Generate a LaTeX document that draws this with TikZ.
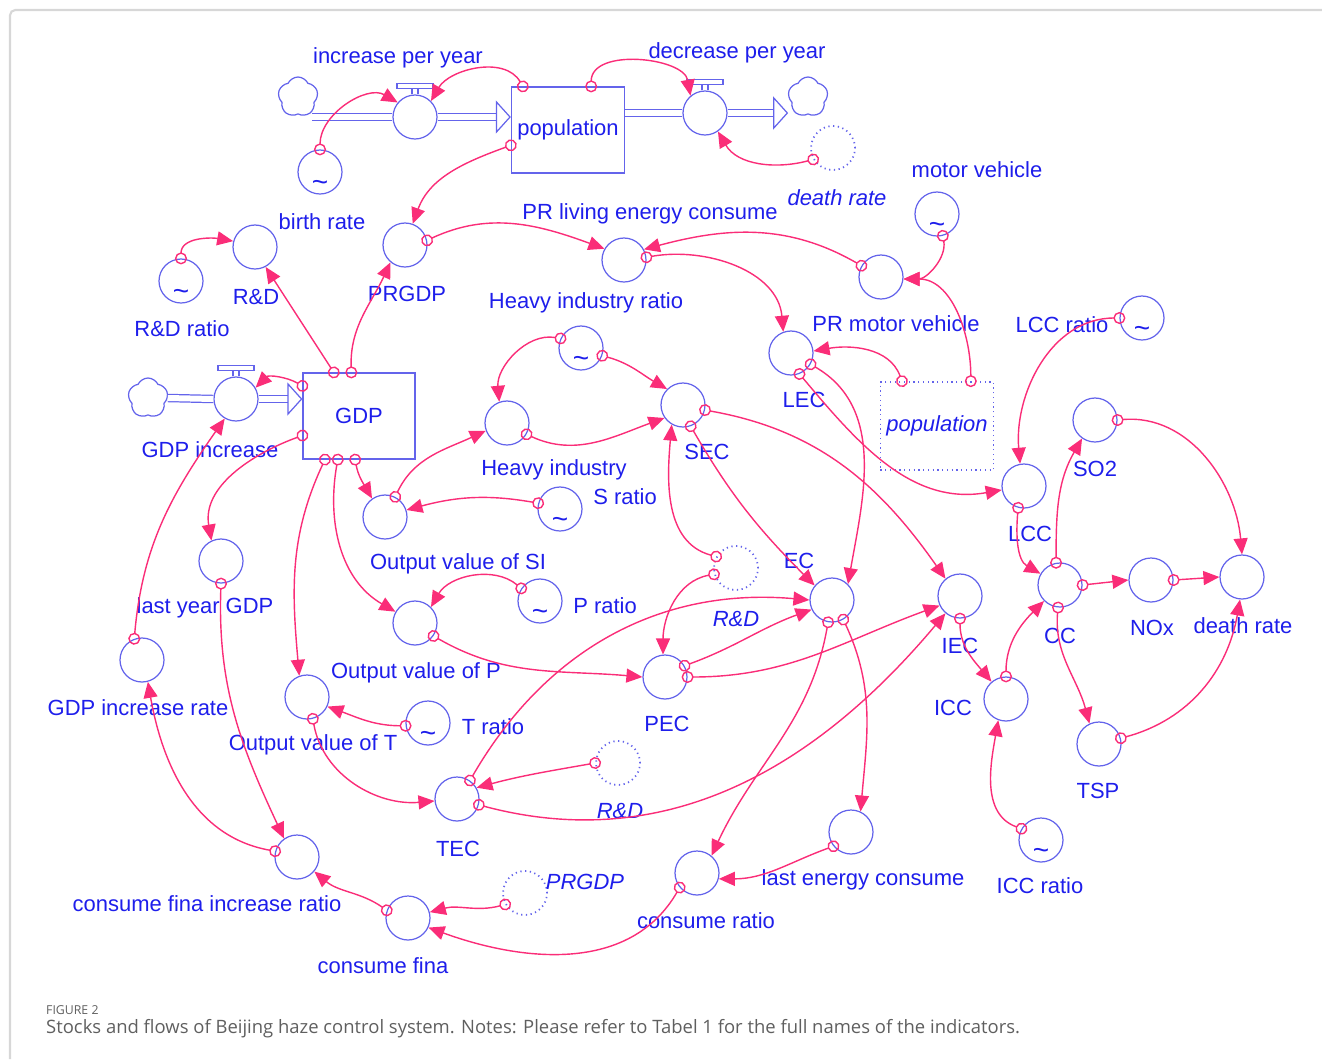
\documentclass[tikz,border=0pt]{standalone}
\usepackage{fontspec}
\setmainfont{Liberation Sans}
\newfontfamily\capfont{Open Sans}
\usetikzlibrary{arrows.meta,shapes.symbols,calc}

\definecolor{vblue}{RGB}{30,30,235}
\definecolor{cblue}{RGB}{100,100,235}
\definecolor{lpink}{RGB}{250,45,120}
\definecolor{framegray}{RGB}{215,215,215}
\definecolor{capgray}{RGB}{95,95,95}
\newcommand\lblfont{\fontsize{12.5}{14}\selectfont}

\begin{document}
\begin{tikzpicture}[x=0.02cm,y=0.02cm,
	aux/.style={circle,draw=cblue,line width=0.7pt,minimum size=0.88cm,inner sep=0pt},
	const/.style={aux,label={[tildemark,yshift=-0.27cm]center:\char`\~}},
	tildemark/.style={text=vblue,font=\fontsize{16}{16}\selectfont,inner sep=0pt},
	shadow/.style={aux,dotted,line width=1pt},
	stock/.style={rectangle,draw=cblue,line width=0.7pt,minimum width=2.24cm,minimum height=1.72cm,text=vblue,font=\lblfont},
	src/.style={cloud,cloud puffs=5,cloud puff arc=130,aspect=1,draw=cblue,line width=0.7pt,minimum size=0.8cm,inner sep=0pt},
	lbl/.style={text=vblue,font=\lblfont,inner sep=1pt},
	ital/.style={font=\lblfont\itshape},
	link/.style={lpink,line width=0.8pt,shorten <=-0.12cm,{Circle[open,length=0.24cm]}-{Triangle[length=0.32cm,width=0.28cm]}},
	pipe/.style={draw=cblue,line width=0.7pt,double=white,double distance=0.12cm},
	flowhead/.style={-{Triangle[open,length=0.3cm,width=0.66cm]}}]

	\useasboundingbox (0,0) rectangle (1322,-1059);
	\draw[framegray,line width=1.2pt,rounded corners=3pt] (10,-1059) -- (10,-10) -- (1322,-10);

	% stocks, flows and variables
	\node[src] (cl1) at (298,-97) {};
	\node[aux] (inc) at (415,-117) {};
	\node[stock] (pop) at (568,-130) {population};
	\node[aux] (dec) at (705,-113) {};
	\node[src] (cl2) at (808,-97) {};
	\node[const] (br) at (320,-172) {};
	\node[shadow] (drs) at (833,-148) {};
	\node[const] (rdr) at (181,-281) {};
	\node[aux] (rd) at (255,-247) {};
	\node[aux] (prgdp) at (405,-245) {};
	\node[aux] (prl) at (624,-260) {};
	\node[const] (mv) at (937,-214) {};
	\node[aux] (prmv) at (881,-277) {};
	\node[aux] (lec) at (791,-353) {};
	\node[stock,dotted,line width=1pt,minimum width=2.22cm,minimum height=1.76cm] (pops) at (937,-426) {\itshape population};
	\node[const] (lccr) at (1142,-318) {};
	\node[const] (hir) at (581,-348) {};
	\node[aux] (sec) at (683,-405) {};
	\node[aux] (hi) at (507,-423) {};
	\node[stock] (gdp) at (359,-416) {GDP};
	\node[src] (cl3) at (148,-398) {};
	\node[aux] (gdpinc) at (236,-399) {};
	\node[aux] (so2) at (1095,-420) {};
	\node[aux] (lcc) at (1024,-486) {};
	\node[aux] (osi) at (385,-517) {};
	\node[const] (sr) at (560,-509) {};
	\node[aux] (lyg) at (221,-561) {};
	\node[shadow] (rds1) at (736,-568) {};
	\node[aux] (ec) at (832,-600) {};
	\node[aux] (iec) at (960,-596) {};
	\node[aux] (cc) at (1060,-585) {};
	\node[aux] (nox) at (1151,-580) {};
	\node[aux] (dr) at (1242,-577) {};
	\node[const] (pr) at (540,-601) {};
	\node[aux] (op) at (415,-623) {};
	\node[aux] (gir) at (142,-660) {};
	\node[aux] (pec) at (665,-677) {};
	\node[aux] (icc) at (1006,-699) {};
	\node[aux] (ot) at (307,-697) {};
	\node[const] (tr) at (428,-723) {};
	\node[aux] (tsp) at (1099,-744) {};
	\node[shadow] (rds2) at (618,-763) {};
	\node[aux] (tec) at (457,-799) {};
	\node[aux] (lecon) at (851,-832) {};
	\node[const] (iccr) at (1041,-840) {};
	\node[aux] (cfir) at (297,-857) {};
	\node[aux] (cr) at (697,-873) {};
	\node[shadow] (prs) at (525,-893) {};
	\node[aux] (cf) at (408,-918) {};

	\foreach \v in {inc,dec,gdpinc}{
		\draw[cblue,line width=0.7pt] ($(\v.north)+(-3,0)$) -- ++(0,6) ($(\v.north)+(3,0)$) -- ++(0,6);
		\draw[cblue,line width=0.7pt,fill=white] ($(\v.north)+(-18,6)$) rectangle ($(\v.north)+(18,11)$);
	}

	\draw[pipe] (cl1.south east |- inc) -- (inc.west);
	\draw[pipe,flowhead] (inc.east) -- (pop.west |- inc);
	\draw[pipe] (pop.east |- dec) -- (dec.west);
	\draw[pipe,flowhead] (dec.east) -- (cl2.west |- dec);
	\draw[pipe] (cl3.east) -- (gdpinc.west);
	\draw[pipe,flowhead] (gdpinc.east) -- (gdp.west |- gdpinc);

	% labels
	\node[lbl] (inctxt) at (398,-58) {increase per year};
	\node[lbl] (dectxt) at (737,-53) {decrease per year};
	\node[lbl] (brtxt) at (322,-222) {birth rate};
	\node[lbl,ital] (drstxt) at (837,-198) {death rate};
	\node[lbl] (mvtxt) at (977,-170) {motor vehicle};
	\node[lbl] (prltxt) at (650,-214) {PR living energy consume};
	\node[lbl] (rdtxt) at (256,-297) {R\&D};
	\node[lbl] (rdrtxt) at (182,-329) {R\&D ratio};
	\node[lbl] (prgdptxt) at (407,-294) {PRGDP};
	\node[lbl] (hirtxt) at (586,-303) {Heavy industry ratio};
	\node[lbl] (prmvtxt) at (896,-324) {PR motor vehicle};
	\node[lbl] (lccrtxt) at (1062,-325) {LCC ratio};
	\node[lbl] (lectxt) at (804,-400) {LEC};
	\node[lbl] (gdpinctxt) at (210,-450) {GDP increase};
	\node[lbl] (sectxt) at (707,-452) {SEC};
	\node[lbl] (so2txt) at (1095,-469) {SO2};
	\node[lbl] (hitxt) at (554,-470) {Heavy industry};
	\node[lbl] (srtxt) at (625,-497) {S ratio};
	\node[lbl] (lcctxt) at (1030,-534) {LCC};
	\node[lbl] (ositxt) at (458,-564) {Output value of SI};
	\node[lbl] (ectxt) at (799,-561) {EC};
	\node[lbl] (lygtxt) at (205,-608) {last year GDP};
	\node[lbl] (prtxt) at (605,-606) {P ratio};
	\node[lbl,ital] (rds1txt) at (736,-619) {R\&D};
	\node[lbl] (iectxt) at (960,-646) {IEC};
	\node[lbl] (cctxt) at (1060,-636) {CC};
	\node[lbl] (noxtxt) at (1152,-628) {NOx};
	\node[lbl] (drtxt) at (1243,-626) {death rate};
	\node[lbl] (optxt) at (416,-673) {Output value of P};
	\node[lbl] (girtxt) at (138,-708) {GDP increase rate};
	\node[lbl] (icctxt) at (953,-708) {ICC};
	\node[lbl] (trtxt) at (493,-727) {T ratio};
	\node[lbl] (pectxt) at (667,-724) {PEC};
	\node[lbl] (ottxt) at (313,-745) {Output value of T};
	\node[lbl] (tsptxt) at (1098,-791) {TSP};
	\node[lbl,ital] (rds2txt) at (620,-811) {R\&D};
	\node[lbl] (tectxt) at (458,-849) {TEC};
	\node[lbl,ital] (prstxt) at (585,-882) {PRGDP};
	\node[lbl] (lecontxt) at (863,-880) {last energy consume};
	\node[lbl] (iccrtxt) at (1040,-886) {ICC ratio};
	\node[lbl] (cfirtxt) at (207,-904) {consume fina increase ratio};
	\node[lbl] (crtxt) at (706,-921) {consume ratio};
	\node[lbl] (cftxt) at (383,-966) {consume fina};

	% causal links
	\path[link]
	(br.90) edge[out=90,in=150] (inc.140)
	(pop.136) edge[out=120,in=60] (inc.45)
	(pop.62) edge[out=90,in=100] (dec.130)
	(drs.210) edge[out=195,in=-60] (dec.-55)
	(pop.195) edge[out=200,in=70] (prgdp.70)
	(rdr.90) edge[out=90,in=170] (rd.165)
	(gdp.120) edge (rd.-62)
	(gdp.100) edge[out=92,in=-115] (prgdp.-130)
	(gdp.152) edge[out=150,in=45] (gdpinc.30)
	(gir.110) edge[out=85,in=-125] (gdpinc.-120)
	(gdp.199) edge[out=200,in=100] (lyg.115)
	(lyg.-90) edge[out=-92,in=115] (cfir.125)
	(cfir.165) edge[out=170,in=-80] (gir.-75)
	(cf.160) edge[out=145,in=-40] (cfir.-40)
	(prs.210) edge[out=195,in=15] (cf.15)
	(cr.220) edge[out=240,in=-20] (cf.-25)
	(lecon.219) edge[out=200,in=0] (cr.-15)
	(ec.-60) edge[out=-65,in=85] (lecon.65)
	(ec.-100) edge[out=-100,in=65] (cr.50)
	(gdp.265) edge[out=-80,in=120] (osi.125)
	(gdp.244) edge[out=-100,in=150] (op.150)
	(gdp.232) edge[out=-115,in=95] (ot.110)
	(tr.187) edge[out=180,in=-20] (ot.-25)
	(pr.146) edge[out=140,in=60] (op.45)
	(sr.165) edge[out=170,in=15] (osi.18)
	(osi.63) edge[out=65,in=205] (hi.200)
	(hir.155) edge[out=170,in=95] (hi.110)
	(hir.-20) edge[out=-15,in=150] (sec.135)
	(hi.-30) edge[out=-25,in=200] (sec.215)
	(rds1.150) edge[out=165,in=-95] (sec.240)
	(rds1.196) edge[out=190,in=90] (pec.95)
	(sec.-70) edge[out=-60,in=135] (ec.140)
	(sec.-13) edge[out=-10,in=125] (iec.130)
	(lec.-30) edge[out=-30,in=80] (ec.45)
	(lec.-68) edge[out=-50,in=190] (lcc.190)
	(prl.7) edge[out=10,in=95] (lec.110)
	(prmv.150) edge[out=150,in=15] (prl.28)
	(mv.-75) edge[out=-80,in=0] (prmv.-5)
	(pops.53) edge[out=90,in=0] (prmv.-5)
	(pops.128) edge[out=110,in=10] (lec.5)
	(prgdp.12) edge[out=25,in=160] (prl.150)
	(lccr.180) edge[out=180,in=95] (lcc.100)
	(lcc.-105) edge[out=-95,in=150] (cc.150)
	(cc.100) edge[out=90,in=-120] (so2.235)
	(cc.0) edge (nox.180)
	(nox.0) edge (dr.180)
	(so2.0) edge[out=5,in=95] (dr.90)
	(cc.-95) edge[out=-95,in=105] (tsp.115)
	(tsp.15) edge[out=15,in=-100] (dr.-95)
	(iec.-90) edge[out=-90,in=130] (icc.130)
	(icc.90) edge[out=90,in=-135] (cc.225)
	(iccr.150) edge[out=160,in=-100] (icc.-110)
	(pec.30) edge[out=20,in=200] (ec.205)
	(pec.0) edge[out=0,in=200] (iec.205)
	(op.-35) edge[out=-30,in=175] (pec.180)
	(ot.-75) edge[out=-80,in=185] (tec.185)
	(rds2.180) edge[out=190,in=15] (tec.30)
	(tec.55) edge[out=60,in=175] (ec.180)
	(tec.-15) edge[out=-15,in=230] (iec.230);

	\node[anchor=west,text=capgray,font=\capfont\fontsize{7}{8}\selectfont] (figtxt) at (40,-1010) {FIGURE 2};
	\node[anchor=west,text=capgray,font=\capfont\fontsize{10.5}{12}\selectfont] (captxt) at (40,-1029) {Stocks and flows of Beijing haze control system. Notes: Please refer to Tabel 1 for the full names of the indicators.};
\end{tikzpicture}
\end{document}
